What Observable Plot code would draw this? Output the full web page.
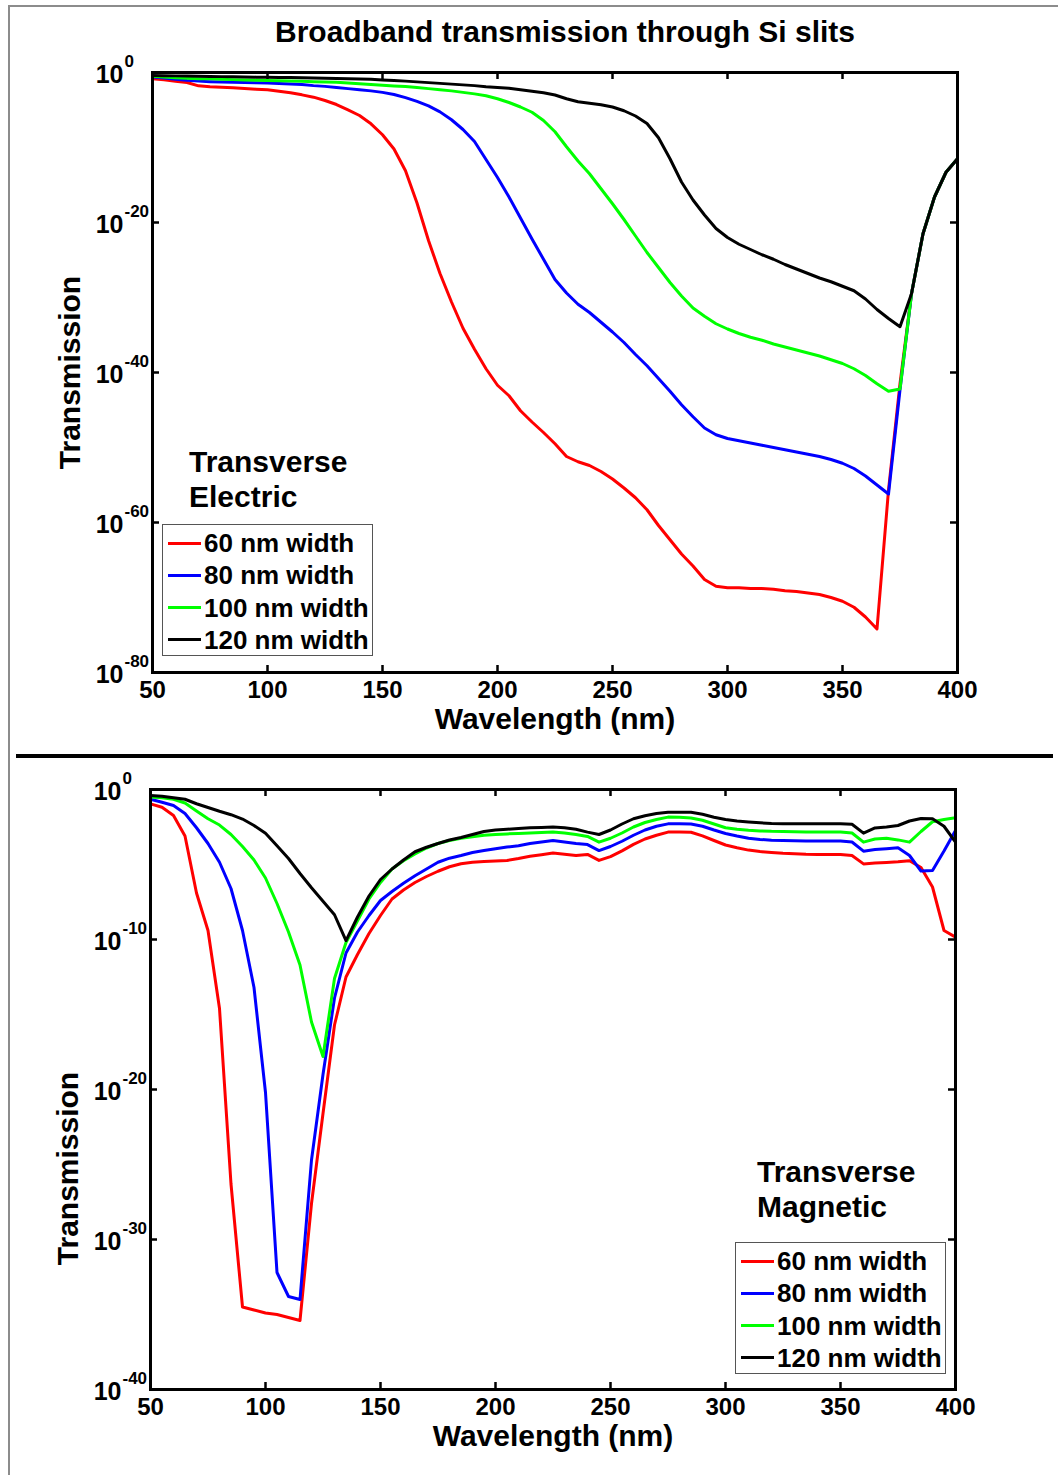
<!DOCTYPE html>
<html>
<head>
<meta charset="utf-8">
<script src="https://cdn.jsdelivr.net/npm/d3@7"></script>
<script src="https://cdn.jsdelivr.net/npm/@observablehq/plot@0.6"></script>
<style>
  html, body { margin: 0; padding: 0; background: #fff; }
  #root { position: relative; width: 1058px; height: 1475px; overflow: hidden;
          font-family: "Liberation Sans", Arial, Helvetica, sans-serif; font-weight: bold; color: #000; }
  .abs { position: absolute; }
  .outer { left: 8px; top: 5px; width: 1070px; height: 1490px; border-left: 2px solid #8c8c8c; border-top: 2px solid #8c8c8c; box-sizing: border-box; }
  .title { top: 15px; left: 565px; transform: translateX(-50%); font-size: 30px; line-height: 34px; white-space: nowrap; }
  .sep { left: 16px; top: 754px; width: 1037px; height: 4px; background: #000; }
  .note { font-size: 30px; line-height: 35px; white-space: pre; }
  .legend { width: 211px; height: 132px; border: 1px solid #555; box-sizing: border-box; background: #fff; }
  .legend .sw { position: absolute; left: 5px; width: 33px; height: 3px; }
  .legend .lab { position: absolute; left: 41px; font-size: 26px; line-height: 32px; height: 32px; white-space: nowrap; }
</style>
</head>
<body>
<div id="root"></div>
<script>
// ---------------- data ----------------
const wavelength = [50,55,60,65,70,75,80,85,90,95,100,105,110,115,120,125,130,135,140,145,
  150,155,160,165,170,175,180,185,190,195,200,205,210,215,220,225,230,235,240,245,
  250,255,260,265,270,275,280,285,290,295,300,305,310,315,320,325,330,335,340,345,
  350,355,360,365,370,375,380,385,390,395,400];

const seriesNames = ["60 nm width", "80 nm width", "100 nm width", "120 nm width"];

const xTicks = [50, 100, 150, 200, 250, 300, 350, 400];
const teYTickExp = [0, -20, -40, -60, -80];
const tmYTickExp = [0, -10, -20, -30, -40];

// Transverse Electric: log10(transmission)
const teRed = [-0.84,-0.98,-1.16,-1.33,-1.78,-1.91,-1.96,-2.04,-2.13,-2.22,
  -2.31,-2.49,-2.71,-2.98,-3.29,-3.73,-4.27,-4.98,-5.73,-6.84,
  -8.3,-10.2,-13.1,-17.4,-22.4,-26.8,-30.6,-34.1,-36.9,-39.5,
  -41.7,-43.1,-45.1,-46.6,-48.0,-49.5,-51.2,-51.9,-52.4,-53.2,
  -54.2,-55.4,-56.7,-58.3,-60.4,-62.3,-64.2,-65.8,-67.6,-68.5,
  -68.7,-68.7,-68.8,-68.8,-68.9,-69.1,-69.2,-69.4,-69.6,-70.0,
  -70.5,-71.3,-72.6,-74.2,-55.7,-41.5,-29.5,-21.5,-16.6,-13.3,
  -11.5];
const teBlue = [-0.6,-0.75,-0.9,-1.05,-1.15,-1.22,-1.27,-1.3,-1.33,-1.37,
  -1.4,-1.46,-1.53,-1.6,-1.75,-1.85,-2.0,-2.15,-2.3,-2.45,
  -2.65,-2.93,-3.35,-3.85,-4.45,-5.25,-6.3,-7.6,-9.2,-11.6,
  -14.0,-16.6,-19.4,-22.2,-24.9,-27.6,-29.4,-30.9,-32.0,-33.3,
  -34.6,-36.0,-37.6,-39.1,-40.8,-42.5,-44.3,-45.9,-47.4,-48.3,
  -48.8,-49.1,-49.4,-49.7,-50.0,-50.3,-50.6,-50.9,-51.2,-51.6,
  -52.1,-52.8,-53.8,-55.0,-56.2,-42.3,-29.5,-21.5,-16.6,-13.3,
  -11.5];
const teGreen = [-0.5,-0.6,-0.7,-0.78,-0.82,-0.85,-0.9,-0.95,-1.0,-1.03,
  -1.06,-1.1,-1.14,-1.18,-1.22,-1.26,-1.3,-1.4,-1.5,-1.6,
  -1.7,-1.8,-1.87,-2.0,-2.15,-2.3,-2.45,-2.65,-2.85,-3.1,
  -3.5,-4.0,-4.6,-5.3,-6.4,-7.9,-9.9,-11.8,-13.5,-15.5,
  -17.5,-19.6,-21.8,-24.0,-26.0,-28.0,-29.8,-31.4,-32.5,-33.5,
  -34.2,-34.8,-35.3,-35.7,-36.2,-36.6,-37.0,-37.4,-37.8,-38.3,
  -38.8,-39.5,-40.4,-41.5,-42.5,-42.2,-29.5,-21.5,-16.6,-13.3,
  -11.5];
const teBlack = [-0.4,-0.42,-0.45,-0.47,-0.5,-0.52,-0.55,-0.57,-0.6,-0.62,
  -0.64,-0.66,-0.68,-0.71,-0.74,-0.77,-0.8,-0.83,-0.87,-0.9,
  -1.0,-1.08,-1.15,-1.25,-1.35,-1.45,-1.55,-1.65,-1.75,-1.9,
  -2.0,-2.1,-2.3,-2.5,-2.7,-3.0,-3.5,-3.9,-4.1,-4.3,
  -4.6,-5.1,-5.8,-6.8,-8.7,-11.5,-14.6,-17.0,-19.0,-20.8,
  -22.0,-22.9,-23.6,-24.3,-24.9,-25.6,-26.2,-26.8,-27.4,-27.9,
  -28.5,-29.1,-30.2,-31.6,-32.8,-33.9,-29.5,-21.5,-16.6,-13.3,
  -11.5];

// Transverse Magnetic: log10(transmission)
const tmRed = [-0.96,-1.18,-1.73,-3.1,-6.9,-9.4,-14.6,-26.3,-34.5,-34.7,
  -34.9,-35.0,-35.2,-35.4,-27.6,-21.6,-15.7,-12.5,-11.0,-9.6,
  -8.4,-7.3,-6.7,-6.2,-5.8,-5.45,-5.15,-4.95,-4.85,-4.8,
  -4.77,-4.73,-4.6,-4.45,-4.35,-4.24,-4.32,-4.4,-4.33,-4.73,
  -4.47,-4.09,-3.66,-3.3,-3.05,-2.84,-2.84,-2.85,-3.09,-3.4,
  -3.7,-3.88,-4.04,-4.14,-4.2,-4.25,-4.28,-4.32,-4.33,-4.33,
  -4.33,-4.4,-4.96,-4.9,-4.86,-4.82,-4.75,-5.2,-6.5,-9.4,
  -9.84];
const tmBlue = [-0.65,-0.85,-1.07,-1.6,-2.55,-3.6,-4.85,-6.6,-9.4,-13.2,
  -20.2,-32.2,-33.8,-34.0,-24.7,-19.0,-13.9,-10.9,-9.5,-8.4,
  -7.4,-6.8,-6.25,-5.75,-5.3,-4.85,-4.58,-4.4,-4.2,-4.07,
  -3.95,-3.84,-3.75,-3.6,-3.5,-3.4,-3.5,-3.6,-3.67,-4.07,
  -3.8,-3.45,-3.05,-2.7,-2.45,-2.29,-2.29,-2.3,-2.45,-2.7,
  -2.93,-3.1,-3.25,-3.33,-3.38,-3.4,-3.42,-3.43,-3.44,-3.44,
  -3.44,-3.5,-4.11,-4.0,-3.95,-3.89,-4.4,-5.44,-5.4,-4.1,
  -2.73];
const tmGreen = [-0.5,-0.55,-0.65,-0.9,-1.43,-1.95,-2.37,-3.0,-3.8,-4.7,
  -5.9,-7.6,-9.5,-11.7,-15.5,-17.8,-12.6,-10.2,-8.75,-7.3,
  -6.2,-5.3,-4.75,-4.3,-3.9,-3.6,-3.4,-3.25,-3.15,-3.05,
  -3.0,-2.96,-2.93,-2.9,-2.87,-2.84,-2.9,-3.0,-3.13,-3.51,
  -3.25,-2.9,-2.5,-2.2,-2.0,-1.84,-1.85,-1.9,-2.05,-2.3,
  -2.55,-2.65,-2.72,-2.76,-2.79,-2.8,-2.82,-2.83,-2.84,-2.84,
  -2.84,-2.9,-3.51,-3.3,-3.25,-3.36,-3.51,-2.8,-2.15,-2.0,
  -1.89];
const tmBlack = [-0.4,-0.45,-0.55,-0.65,-0.95,-1.2,-1.45,-1.68,-1.97,-2.4,
  -2.92,-3.75,-4.6,-5.6,-6.55,-7.45,-8.35,-10.07,-8.5,-7.1,
  -6.0,-5.3,-4.7,-4.15,-3.85,-3.6,-3.37,-3.2,-3.0,-2.8,
  -2.7,-2.65,-2.6,-2.55,-2.53,-2.5,-2.55,-2.65,-2.84,-3.0,
  -2.7,-2.3,-1.95,-1.75,-1.6,-1.51,-1.51,-1.51,-1.65,-1.85,
  -2.0,-2.1,-2.16,-2.22,-2.27,-2.29,-2.29,-2.29,-2.29,-2.29,
  -2.29,-2.32,-2.91,-2.56,-2.5,-2.4,-2.1,-1.93,-1.95,-2.45,
  -3.51];

// ---------------- styling ----------------
const seriesColors = ["#ff0000", "#0000ff", "#00ff00", "#000000"];
const FONT = '"Liberation Sans", Arial, Helvetica, sans-serif';
const FRAME_W = 805, FRAME_H = 600, PAGE_W = 1058;

function toRows(seriesList) {
  return seriesList.flatMap((vals, s) =>
    vals.map((e, i) => ({ wl: wavelength[i], t: Math.pow(10, e), series: seriesNames[s] })));
}

function panel({ rows, yTickExp, frameLeft, marginTop, yLabelDy }) {
  const marginBottom = 80;
  const yMinExp = Math.min(...yTickExp), yMaxExp = Math.max(...yTickExp);
  const xInner = xTicks.slice(1, -1);
  const yInner = yTickExp.slice(1, -1);
  const txt = { fill: "black", fontWeight: "bold" };
  return Plot.plot({
    width: PAGE_W,
    height: marginTop + FRAME_H + marginBottom,
    marginLeft: frameLeft,
    marginRight: PAGE_W - frameLeft - FRAME_W,
    marginTop,
    marginBottom,
    style: { fontFamily: FONT, background: "transparent", overflow: "visible" },
    x: { domain: [50, 400], axis: null },
    y: { type: "log", domain: [Math.pow(10, yMinExp), Math.pow(10, yMaxExp)], axis: null },
    color: { domain: seriesNames, range: seriesColors },
    marks: [
      Plot.line(rows, { x: "wl", y: "t", z: "series", stroke: "series", strokeWidth: 3, strokeLinejoin: "round" }),
      // inward ticks on all four sides
      Plot.tickX(xInner, { x: d => d, insetTop: FRAME_H - 7, stroke: "black", strokeWidth: 2.5 }),
      Plot.tickX(xInner, { x: d => d, insetBottom: FRAME_H - 7, stroke: "black", strokeWidth: 2.5 }),
      Plot.tickY(yInner, { y: e => Math.pow(10, e), insetRight: FRAME_W - 7, stroke: "black", strokeWidth: 2.5 }),
      Plot.tickY(yInner, { y: e => Math.pow(10, e), insetLeft: FRAME_W - 7, stroke: "black", strokeWidth: 2.5 }),
      Plot.frame({ stroke: "black", strokeWidth: 3 }),
      // x tick labels
      Plot.text(xTicks, { x: d => d, frameAnchor: "bottom", lineAnchor: "middle", dy: 18, text: d => `${d}`, fontSize: 24, ...txt }),
      // y tick labels 10^e
      Plot.text(yTickExp, { y: e => Math.pow(10, e), frameAnchor: "left", lineAnchor: "middle", dx: -29, dy: 2, textAnchor: "end", text: () => "10", fontSize: 25, ...txt }),
      Plot.text(yTickExp, { y: e => Math.pow(10, e), frameAnchor: "left", lineAnchor: "middle", dx: -28, dy: -11, textAnchor: "start", text: e => `${e}`, fontSize: 17, ...txt }),
      // axis titles
      Plot.text(["Wavelength (nm)"], { frameAnchor: "bottom", lineAnchor: "middle", textAnchor: "middle", dy: 47, text: d => d, fontSize: 30, ...txt }),
      Plot.text(["Transmission"], { frameAnchor: "left", lineAnchor: "middle", textAnchor: "middle", dx: -82, dy: yLabelDy, rotate: -90, text: d => d, fontSize: 30, ...txt })
    ]
  });
}

// ---------------- page ----------------
const root = document.getElementById("root");
function addDiv(cls, css, text) {
  const d = document.createElement("div");
  d.className = "abs " + cls;
  Object.assign(d.style, css || {});
  if (text != null) d.textContent = text;
  root.appendChild(d);
  return d;
}

addDiv("outer");
addDiv("title", {}, "Broadband transmission through Si slits");

const teSvg = panel({
  rows: toRows([teRed, teBlue, teGreen, teBlack]),
  yTickExp: teYTickExp, frameLeft: 152, marginTop: 22, yLabelDy: 0
});
Object.assign(teSvg.style, { position: "absolute", left: "0px", top: "50px" });
root.appendChild(teSvg);

const tmSvg = panel({
  rows: toRows([tmRed, tmBlue, tmGreen, tmBlack]),
  yTickExp: tmYTickExp, frameLeft: 150, marginTop: 29, yLabelDy: 79
});
Object.assign(tmSvg.style, { position: "absolute", left: "0px", top: "760px" });
root.appendChild(tmSvg);

addDiv("sep");

function note(left, top, text) { addDiv("note", { left: left + "px", top: top + "px" }, text); }
note(189, 444, "Transverse\nElectric");
note(757, 1154, "Transverse\nMagnetic");

function legend(left, top) {
  const box = addDiv("legend", { left: left + "px", top: top + "px" });
  seriesNames.forEach((name, i) => {
    const c = 18 + 32.3 * i;
    const sw = document.createElement("div");
    sw.className = "sw";
    sw.style.top = (c - 1.5) + "px";
    sw.style.background = seriesColors[i];
    box.appendChild(sw);
    const lab = document.createElement("div");
    lab.className = "lab";
    lab.style.top = (c - 16) + "px";
    lab.textContent = name;
    box.appendChild(lab);
  });
}
legend(162, 524);
legend(735, 1242);
</script>
</body>
</html>
